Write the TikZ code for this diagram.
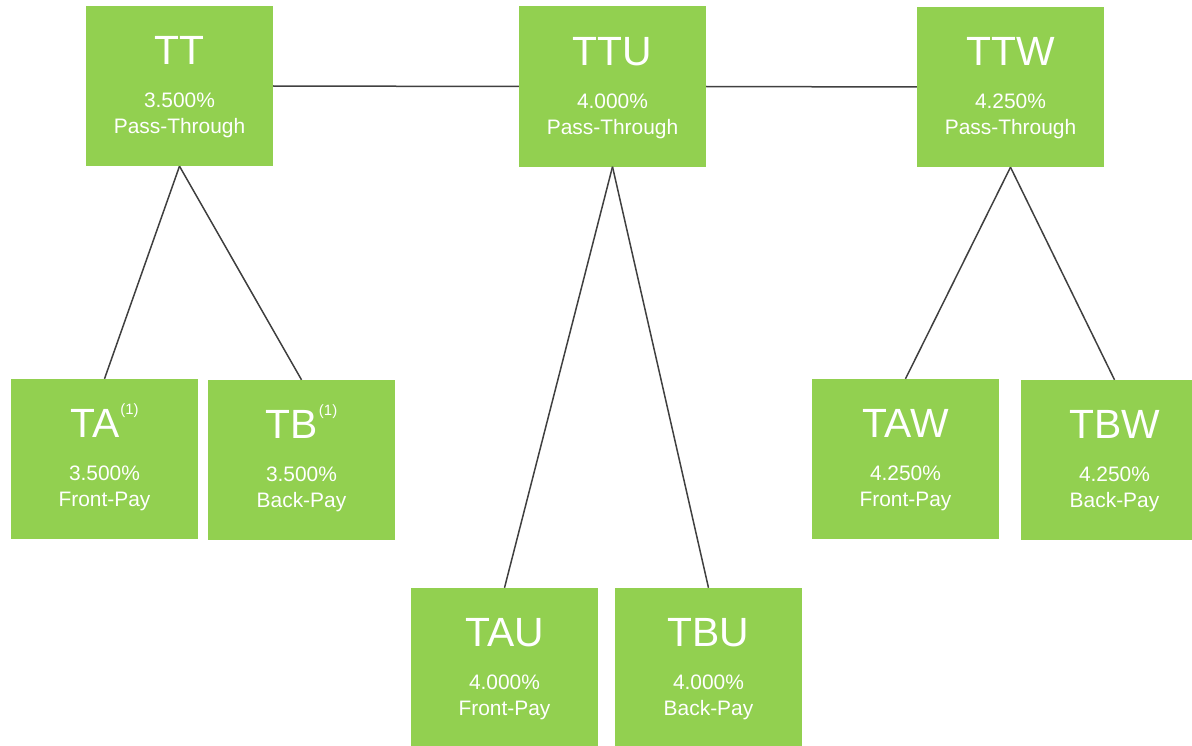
\documentclass[tikz,border=0pt]{standalone}
\usepackage{fontspec}
\setmainfont{Liberation Sans}
\definecolor{trgreen}{RGB}{146,208,80}
\definecolor{linkgray}{RGB}{64,64,64}
\tikzset{
  x=1bp, y=-1bp,
  box/.style={rectangle, fill=trgreen, draw=none, minimum width=187bp, minimum height=160bp, inner sep=0pt},
  ttl/.style={anchor=base, text=white, inner sep=0pt, font=\fontsize{41}{41}\selectfont},
  sub/.style={anchor=base, text=white, inner sep=0pt, font=\fontsize{21}{21}\selectfont},
  link/.style={draw=linkgray, line width=1.5bp},
}
% name, x, y, title, rate, payment type
\newcommand\tranche[6]{%
  \node[box] (#1) at (#2,#3) {};
  \node[ttl] (#1-t) at ([yshift=-59bp]#1.north) {#4};
  \node[sub] (#1-r) at ([yshift=-102bp]#1.north) {#5};
  \node[sub] (#1-p) at ([yshift=-128bp]#1.north) {#6};
}
\newcommand\fnmark{\hspace{1bp}\raisebox{23bp}{\fontsize{15}{15}\selectfont(1)}}
\begin{document}
\begin{tikzpicture}
\useasboundingbox (0,0) rectangle (1192,746);
\clip (0,0) rectangle (1192,746);
% pass-through classes
\tranche{TT}{179.5}{86}{TT}{3.500\%}{Pass-Through}
\tranche{TTU}{612.5}{86.5}{TTU}{4.000\%}{Pass-Through}
\tranche{TTW}{1010.5}{87}{TTW}{4.250\%}{Pass-Through}
% front-pay / back-pay classes
\tranche{TA}{104.5}{459}{TA\fnmark}{3.500\%}{Front-Pay}
\tranche{TB}{301.5}{460}{TB\fnmark}{3.500\%}{Back-Pay}
\tranche{TAU}{504.5}{668}{TAU}{4.000\%}{Front-Pay}
\tranche{TBU}{708.5}{668}{TBU}{4.000\%}{Back-Pay}
\tranche{TAW}{905.5}{459}{TAW}{4.250\%}{Front-Pay}
\tranche{TBW}{1114.5}{460}{TBW}{4.250\%}{Back-Pay}
% connectors
\draw[link] (TT.east) -- (TTU.west);
\draw[link] (TTU.east) -- (TTW.west);
\draw[link] (TT.south) -- (TA.north);
\draw[link] (TT.south) -- (TB.north);
\draw[link] (TTU.south) -- (TAU.north);
\draw[link] (TTU.south) -- (TBU.north);
\draw[link] (TTW.south) -- (TAW.north);
\draw[link] (TTW.south) -- (TBW.north);
\end{tikzpicture}
\end{document}
